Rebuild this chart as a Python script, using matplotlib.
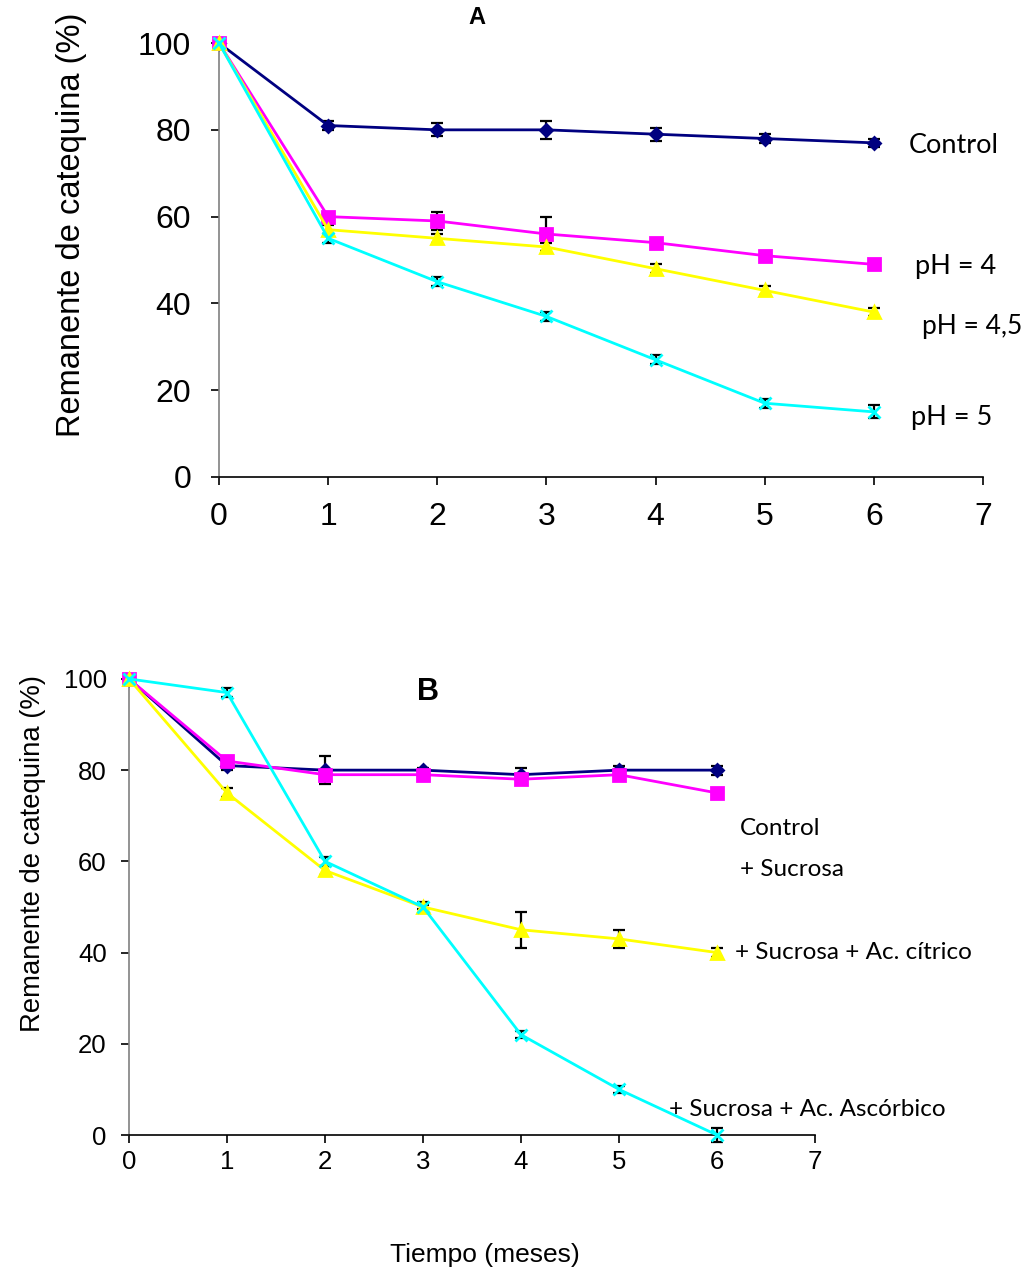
import matplotlib.pyplot as plt

# tiempo (meses)
meses = [0, 1, 2, 3, 4, 5, 6]

# panel A
ctrl_a = [100, 81, 80, 80, 79, 78, 77]
ctrl_a_err = [0, 1, 1.5, 2, 1.5, 1, 1]
ph4 = [100, 60, 59, 56, 54, 51, 49]
ph4_err = [0, 0.5, 2, 4, 0.7, 0.7, 0.7]
ph45 = [100, 57, 55, 53, 48, 43, 38]
ph45_err = [0, 1, 1, 1, 1, 1, 1]
ph5 = [100, 55, 45, 37, 27, 17, 15]
ph5_err = [0, 1, 1, 1, 1, 1, 1.5]

# panel B
ctrl_b = [100, 81, 80, 80, 79, 80, 80]
ctrl_b_err = [0, 1, 3, 0.5, 1.5, 1, 1]
sucrosa = [100, 82, 79, 79, 78, 79, 75]
sucrosa_err = [0, 0.5, 0.5, 0.5, 0.5, 0.5, 0.5]
citrico = [100, 75, 58, 50, 45, 43, 40]
citrico_err = [0, 1, 1, 1, 4, 2, 1]
ascorbico = [100, 97, 60, 50, 22, 10, 0]
ascorbico_err = [0, 1, 1, 0.5, 0.7, 0.7, 1.5]

navy = '#000080'
magenta = '#FF00FF'
yellow = '#FFFF00'
cyan = '#00FFFF'

fig = plt.figure(figsize=(10.32, 12.74), dpi=100)
ax1 = fig.add_axes([0.2122, 0.6256, 0.7403, 0.3406])
ax2 = fig.add_axes([0.125, 0.1091, 0.6647, 0.3580])


def serie(ax, y, err, color, marker, ms):
    ax.errorbar(meses, y, yerr=err, fmt='none', ecolor='black',
                elinewidth=1.6, capsize=4, capthick=1.6, zorder=2, clip_on=False)
    ax.plot(meses, y, color=color, lw=2, marker=marker, ms=ms,
            mfc=color, mec=color, mew=2, zorder=3, clip_on=False)


serie(ax1, ctrl_a, ctrl_a_err, navy, 'D', 6)
serie(ax1, ph4, ph4_err, magenta, 's', 8)
serie(ax1, ph45, ph45_err, yellow, '^', 8)
serie(ax1, ph5, ph5_err, cyan, 'x', 8)

serie(ax2, ctrl_b, ctrl_b_err, navy, 'D', 6)
serie(ax2, sucrosa, sucrosa_err, magenta, 's', 8)
serie(ax2, citrico, citrico_err, yellow, '^', 8)
serie(ax2, ascorbico, ascorbico_err, cyan, 'x', 8)

for ax, fs in [(ax1, 23), (ax2, 18.5)]:
    ax.set_xlim(0, 7)
    ax.set_ylim(0, 100)
    ax.set_xticks(range(8))
    ax.set_yticks(range(0, 101, 20))
    for s in ['top', 'right']:
        ax.spines[s].set_visible(False)
    ax.spines['left'].set_color('#808080')
    ax.spines['bottom'].set_color('black')
    ax.spines['left'].set_linewidth(1.2)
    ax.spines['bottom'].set_linewidth(1.2)
    ax.tick_params(direction='out', length=6, width=1.2, labelsize=fs,
                   labelfontfamily='Liberation Sans')

ax1.tick_params(axis='x', pad=12)
ax1.tick_params(axis='y', pad=14)
ax2.tick_params(axis='x', pad=5)
ax2.tick_params(axis='y', pad=10)
ax1.set_ylabel('Remanente de catequina (%)', fontsize=23.5,
               family='Liberation Sans')
ax2.set_ylabel('Remanente de catequina (%)', fontsize=19.8,
               family='Liberation Sans')
ax1.yaxis.set_label_coords(-132 / 764, 0.58)
ax2.yaxis.set_label_coords(-83 / 686, 0.618)
fig.text(0.47, 0.015, 'Tiempo (meses)', fontsize=19,
         family='Liberation Sans', ha='center', va='center')

ax1.text(2.36, 105.8, 'A', fontsize=17, fontweight='bold', ha='center',
         va='center', family='Liberation Sans')
ax2.text(3.05, 97.1, 'B', fontsize=22, fontweight='bold', ha='center',
         va='center', family='Liberation Sans')

lab = dict(fontsize=19.5, family='Lato', va='center', clip_on=False)
ax1.text(6.32, 76.5, 'Control', **lab)
ax1.text(6.38, 48.4, 'pH = 4', **lab)
ax1.text(6.44, 34.6, 'pH = 4,5', fontsize=19, family='Lato', va='center',
         clip_on=False)
ax1.text(6.34, 13.8, 'pH = 5', **lab)

lab['fontsize'] = 17.5
ax2.text(6.23, 67.1, 'Control', **lab)
ax2.text(6.23, 58.3, '+ Sucrosa', **lab)
ax2.text(6.18, 40.1, '+ Sucrosa + Ac. cítrico', **lab)
ax2.text(5.51, 5.5, '+ Sucrosa + Ac. Ascórbico', **lab)

fig.savefig('out.png', dpi=100)
